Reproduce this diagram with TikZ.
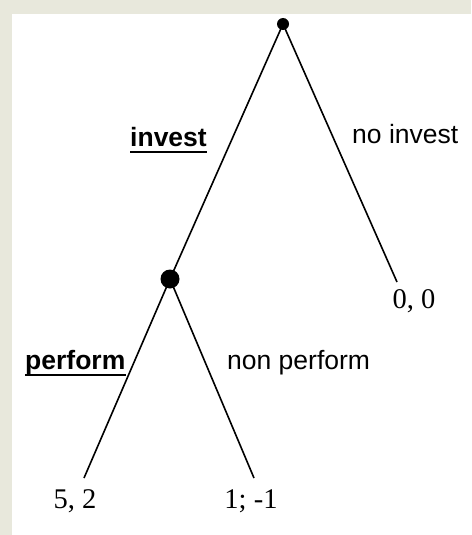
\documentclass[tikz,border=0pt]{standalone}
\usepackage{fontspec}
\setmainfont{Liberation Serif}
\newfontfamily\arialf{Liberation Sans}
\definecolor{framebg}{RGB}{232,232,220}
\begin{document}
\begin{tikzpicture}[x=1pt,y=-1pt,
  dotnode/.style={circle,fill=black,draw=none,inner sep=0pt},
  branch/.style={line width=1.6pt,black},
  lbl/.style={inner sep=0pt,font=\arialf\fontsize{26.5}{30}\selectfont},
  blbl/.style={inner sep=0pt,font=\arialf\bfseries\fontsize{26.5}{30}\selectfont},
  pay/.style={inner sep=0pt,font=\fontsize{28.5}{32}\selectfont},
  uline/.style={line width=2.6pt}]
\useasboundingbox (0,0) rectangle (471,535);
\fill[framebg] (0,0) rectangle (471,535);
\fill[white] (12,14) rectangle (471,535);
% nodes
\node[dotnode,minimum size=12pt] (top) at (283,24) {};
\node[dotnode,minimum size=19pt] (mid) at (170,279) {};
\coordinate (l00) at (397,282);
\coordinate (l52) at (84,478);
\coordinate (l11) at (254,478);
% branches
\draw[branch] (top.center) -- (mid.center);
\draw[branch] (top.center) -- (l00);
\draw[branch] (mid.center) -- (l52);
\draw[branch] (mid.center) -- (l11);
% labels
\node[blbl,anchor=base west] (inv) at (130,146) {invest};
\draw[uline] ([yshift=-6pt]inv.base west) -- ([yshift=-6pt]inv.base east);
\node[lbl,anchor=base west] (noinv) at (352,143) {no invest};
\node[blbl,anchor=base west] (perf) at (25,369) {perform};
\draw[uline] ([yshift=-6pt]perf.base west) -- ([yshift=-6pt]perf.base east);
\node[lbl,anchor=base west] (nperf) at (227,369) {non perform};
% payoffs
\node[pay,anchor=base] (p00) at (414,308) {0, 0};
\node[pay,anchor=base] (p52) at (75,508) {5, 2};
\node[pay,anchor=base] (p11) at (251,508) {1; -1};
\end{tikzpicture}
\end{document}
